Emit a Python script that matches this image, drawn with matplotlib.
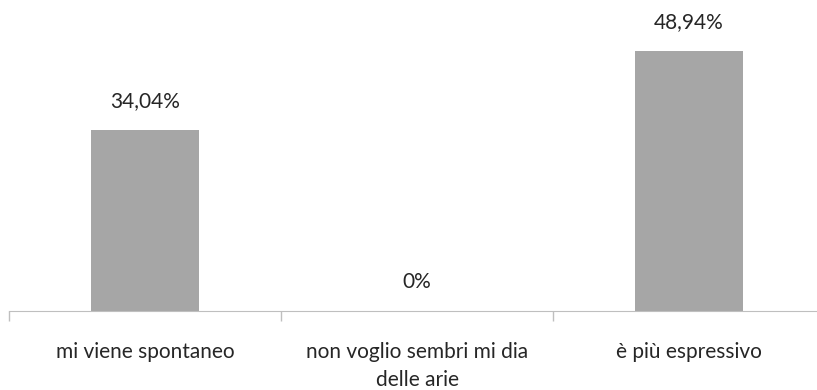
import numpy as np
import matplotlib.pyplot as plt

categories = ["mi viene spontaneo", "non voglio sembri mi dia\ndelle arie", "è più espressivo"]
values = [34.04, 0.0, 48.94]
value_labels = ["34,04%", "0%", "48,94%"]

plt.rcParams['font.family'] = ['Lato', 'DejaVu Sans']

fig = plt.figure(figsize=(8.17, 3.9), dpi=100)
ax = fig.add_axes([9 / 817, 79 / 390, 816 / 817, 311 / 390])

x = np.arange(len(categories))
ax.bar(x, values, width=0.4, color="#a6a6a6")
for xi, v, lab in zip(x, values, value_labels):
    ax.annotate(lab, (xi, v), xytext=(0, 21), textcoords="offset points",
                ha="center", va="center", fontsize=15, color="#262626")

ax.set_xlim(-0.5, 2.5)
ax.set_ylim(0, 58.5)
ax.set_yticks([])
ax.set_xticks(x)
ax.set_xticklabels(categories, fontsize=15, color="#262626", linespacing=1.5)
ax.tick_params(axis="x", which="major", length=0, pad=22)
ax.set_xticks(np.arange(-0.5, 3.0, 1.0), minor=True)
ax.tick_params(axis="x", which="minor", length=7, color="#bfbfbf", width=1)

for s in ["top", "right", "left"]:
    ax.spines[s].set_visible(False)
ax.spines["bottom"].set_color("#bfbfbf")

fig.savefig("out.png", dpi=100)
